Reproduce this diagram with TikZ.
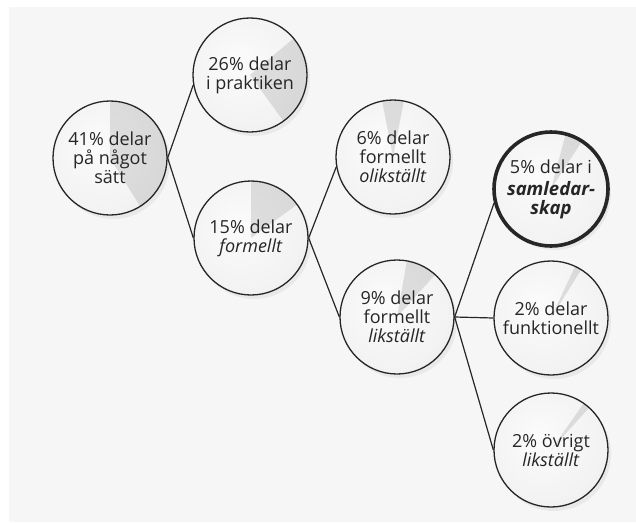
\documentclass[tikz,border=0pt]{standalone}
\usepackage{fontspec}
\setmainfont{Open Sans}
\usetikzlibrary{shadows}

\pgfdeclareradialshading{bubbleshade}{\pgfpoint{-6bp}{6bp}}{%
  color(0bp)=(gray!3); color(26bp)=(gray!10); color(40bp)=(gray!22);
  color(47bp)=(gray!40); color(50bp)=(gray!52)}

\tikzset{
  bubble/.style={circle, minimum size=114pt, inner sep=0pt, draw=black!85, line width=1.3pt,
    shading=bubbleshade, text=black!85, align=center,
    font=\fontsize{18}{19}\selectfont,
    drop shadow={opacity=0.1, shadow xshift=3pt, shadow yshift=-4pt}},
  pie/.style 2 args={path picture={
    \fill[gray, opacity=0.22] (path picture bounding box.center) -- ++(90-#1:62pt)
      arc[start angle=90-#1, end angle=90-#1-#2, radius=62pt] -- cycle;}},
  link/.style={draw=black!85, line width=1.2pt}
}

\begin{document}
\begin{tikzpicture}[x=1pt, y=1pt]

    %%% Frame
    \useasboundingbox (0,0) rectangle (636,-522);
    \fill[gray!7] (9,-7) rectangle (636,-522);

    %%% First level
    \node (n41) [bubble, pie={0}{148}] at (110,-158) {41\% delar\\på något\\sätt};

    %%% Second level
    \node (n26) [bubble, pie={50}{94}] at (250,-75)  {26\% delar\\i praktiken};
    \node (n15) [bubble, pie={0}{54}]  at (251,-238) {15\% delar\\\textit{formellt}};

    %%% Third level
    \node (n6) [bubble, pie={-11}{22}] at (393,-157) {6\% delar\\formellt\\\textit{olikställt}};
    \node (n9) [bubble, pie={10}{32}]  at (397,-317) {9\% delar\\formellt\\\textit{likställt}};

    %%% Fourth level
    \node (n5) [bubble, pie={15}{18}, line width=3.6pt] at (551,-189)
        {5\% delar i\\[3pt]\fontsize{18.5}{21}\selectfont\bfseries\itshape samledar-\\
         \fontsize{18.5}{21}\selectfont\bfseries\itshape skap};
    \node (n2f) [bubble, pie={25}{7}] at (551,-318) {2\% delar\\funktionellt};
    \node (n2o) [bubble, pie={35}{7}] at (551,-450) {2\% övrigt\\\textit{likställt}};

    %%% Connectors
    \draw[link] (n41.east) -- (n26.190);
    \draw[link] (n41.east) -- (n15.west);
    \draw[link] (n15.east) -- (n6.190);
    \draw[link] (n15.east) -- (n9.west);
    \draw[link] (n9.east)  -- (n5.194);
    \draw[link] (n9.east)  -- (n2f.west);
    \draw[link] (n9.east)  -- (n2o.west);

\end{tikzpicture}
\end{document}
